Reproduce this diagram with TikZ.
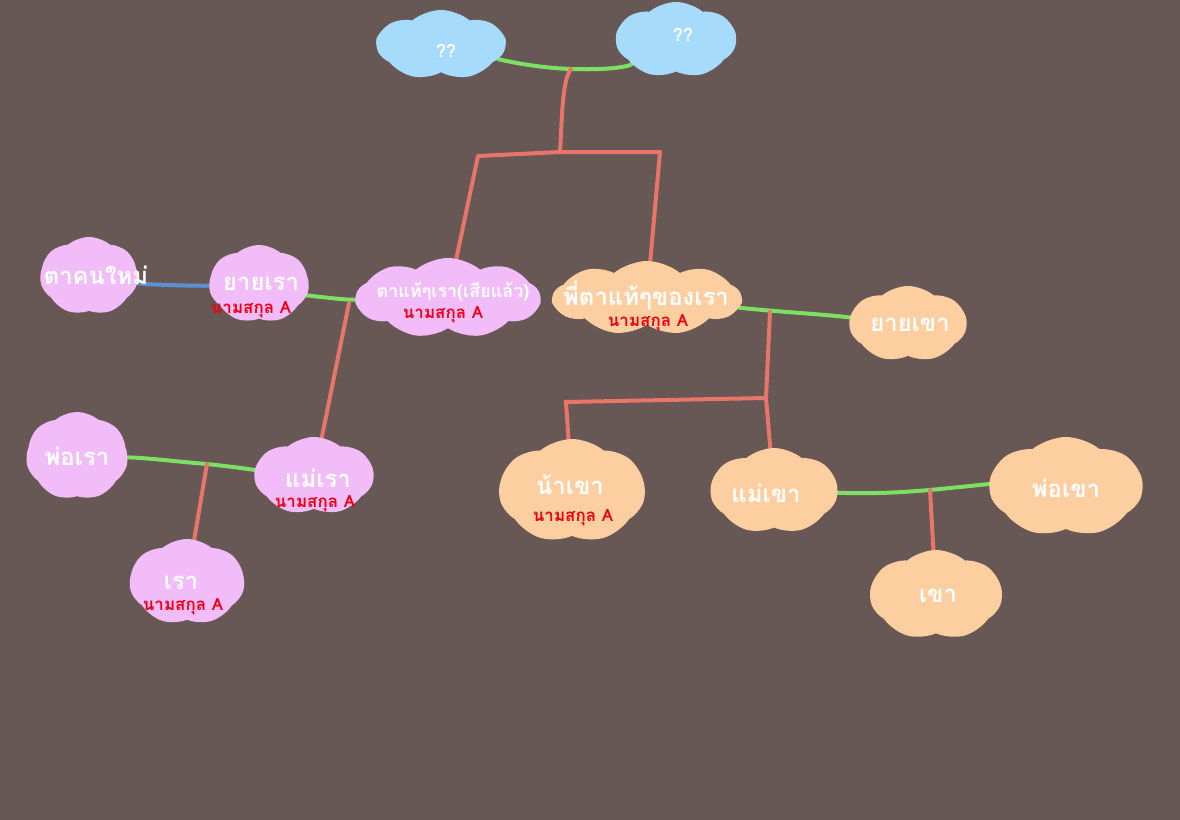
\documentclass[tikz,border=0pt]{standalone}
\usepackage{fontspec}
\newfontfamily\thai[Script=Thai]{Loma}
\usetikzlibrary{shapes.symbols}
\pgfdeclarelayer{bgl}
\pgfdeclarelayer{lines}
\pgfsetlayers{bgl,lines,main}
\definecolor{bgC}{RGB}{103,88,86}
\definecolor{pinkC}{RGB}{241,188,248}
\definecolor{orC}{RGB}{252,206,160}
\definecolor{blC}{RGB}{166,219,252}
\definecolor{grC}{RGB}{124,224,100}
\definecolor{rdC}{RGB}{232,116,106}
\definecolor{blueL}{RGB}{92,144,214}
\definecolor{txR}{RGB}{236,0,20}
\begin{document}
\begin{tikzpicture}[x=1bp,y=-1bp,
  cl/.style={cloud, cloud puffs=7, cloud puff arc=80, cloud ignores aspect, inner sep=0pt, draw=none},
  clw/.style={cloud, cloud puffs=9, cloud puff arc=80, cloud ignores aspect, inner sep=0pt, draw=none},
  pc/.style={cl, fill=pinkC},
  oc/.style={cl, fill=orC},
  bc/.style={cl, fill=blC},
  wt/.style={text=white, inner sep=0pt, font=\thai\bfseries\fontsize{24}{26}\selectfont},
  wts/.style={text=white, inner sep=0pt, font=\thai\bfseries\fontsize{18}{20}\selectfont},
  rd/.style={text=txR, inner sep=0pt, font=\thai\bfseries\fontsize{17}{18}\selectfont},
  gl/.style={draw=grC, line width=4bp, line cap=round},
  rl/.style={draw=rdC, line width=4bp, line cap=round},
  bll/.style={draw=blueL, line width=4bp, line cap=round}]
\begin{pgfonlayer}{bgl}
\fill[bgC] (0,0) rectangle (1180,820);
\end{pgfonlayer}

% clouds
\node[bc, minimum width=128bp, minimum height=70bp] (q1) at (441,45) {};
\node[bc, minimum width=120bp, minimum height=76bp] (q2) at (676,40) {};
\node[pc, minimum width=98bp, minimum height=78bp] (tn) at (89,276) {};
\node[pc, minimum width=100bp, minimum height=78bp] (yr) at (259,284) {};
\node[clw, fill=pinkC, minimum width=184bp, minimum height=80bp] (ta) at (448,298) {};
\node[clw, fill=orC, minimum width=188bp, minimum height=74bp] (pt) at (647,298) {};
\node[oc, minimum width=117bp, minimum height=76bp] (yk) at (908,324) {};
\node[pc, minimum width=102bp, minimum height=88bp] (pr) at (77,456) {};
\node[pc, minimum width=119bp, minimum height=78bp] (mr) at (314,476) {};
\node[pc, minimum width=115bp, minimum height=86bp] (rao) at (187,582) {};
\node[oc, minimum width=146bp, minimum height=104bp] (nk) at (572,491) {};
\node[oc, minimum width=127bp, minimum height=86bp] (mk) at (774,491) {};
\node[oc, minimum width=153bp, minimum height=100bp] (pk) at (1066,487) {};
\node[oc, minimum width=132bp, minimum height=90bp] (kh) at (936,595) {};

% texts
\node[wts] (q1t) at (446,51) {??};
\node[wts] (q2t) at (683,35) {??};
\node[wt] (tnt) at (96,275) {ตาคนใหม่};
\node[wt] (yrt) at (261,284) {ยายเรา};
\node[rd] (yrs) at (251,310) {นามสกุล A};
\node[wts] (tat) at (453,292) {ตาแท้ๆเรา(เสียแล้ว)};
\node[rd] (tas) at (443,315) {นามสกุล A};
\node[wt] (ptt) at (646,295) {พี่ตาแท้ๆของเรา};
\node[rd] (pts) at (648,323) {นามสกุล A};
\node[wt] (ykt) at (910,325) {ยายเขา};
\node[wt] (prt) at (77,456) {พ่อเรา};
\node[wt] (mrt) at (318,478) {แม่เรา};
\node[rd] (mrs) at (315,504) {นามสกุล A};
\node[wt] (raot) at (181,583) {เรา};
\node[rd] (raos) at (183,607) {นามสกุล A};
\node[wt] (nkt) at (570,485) {น้าเขา};
\node[rd] (nks) at (573,518) {นามสกุล A};
\node[wt] (mkt) at (766,493) {แม่เขา};
\node[wt] (pkt) at (1066,488) {พ่อเขา};
\node[wt] (kht) at (938,596) {เขา};

% junctions
\coordinate (jtop) at (571,69);
\coordinate (jmid) at (560,152);
\coordinate (jL) at (478,156);
\coordinate (jR) at (660,152);
\coordinate (jTa) at (349,303);
\coordinate (jPt) at (770,312);
\coordinate (jB) at (766,398);
\coordinate (jC) at (566,402);
\coordinate (jPr) at (207,464);
\coordinate (jMk) at (930,490);

\begin{pgfonlayer}{lines}
\draw[gl] (q1) .. controls (510,62) and (540,68) .. (jtop) .. controls (600,70) and (625,68) .. (q2);
\draw[rl] (jtop) .. controls (562,80) and (562,120) .. (jmid);
\draw[rl] (jL) -- (jmid) -- (jR);
\draw[rl] (jL) -- (ta);
\draw[rl] (jR) -- (pt);
\draw[bll] (tn) .. controls (150,285) and (200,286) .. (yr);
\draw[gl] (yr) .. controls (300,294) and (340,300) .. (ta);
\draw[rl] (jTa) -- (mr);
\draw[gl] (pt) .. controls (780,312) and (820,314) .. (yk);
\draw[rl] (jPt) -- (jB);
\draw[rl] (jB) -- (jC) -- (nk);
\draw[rl] (jB) -- (mk);
\draw[gl] (pr) .. controls (150,458) and (180,462) .. (jPr) .. controls (235,467) and (255,470) .. (mr);
\draw[rl] (jPr) -- (rao);
\draw[gl] (mk) .. controls (880,494) and (905,492) .. (jMk) .. controls (960,487) and (990,484) .. (pk);
\draw[rl] (jMk) -- (kh);
\end{pgfonlayer}
\end{tikzpicture}
\end{document}
